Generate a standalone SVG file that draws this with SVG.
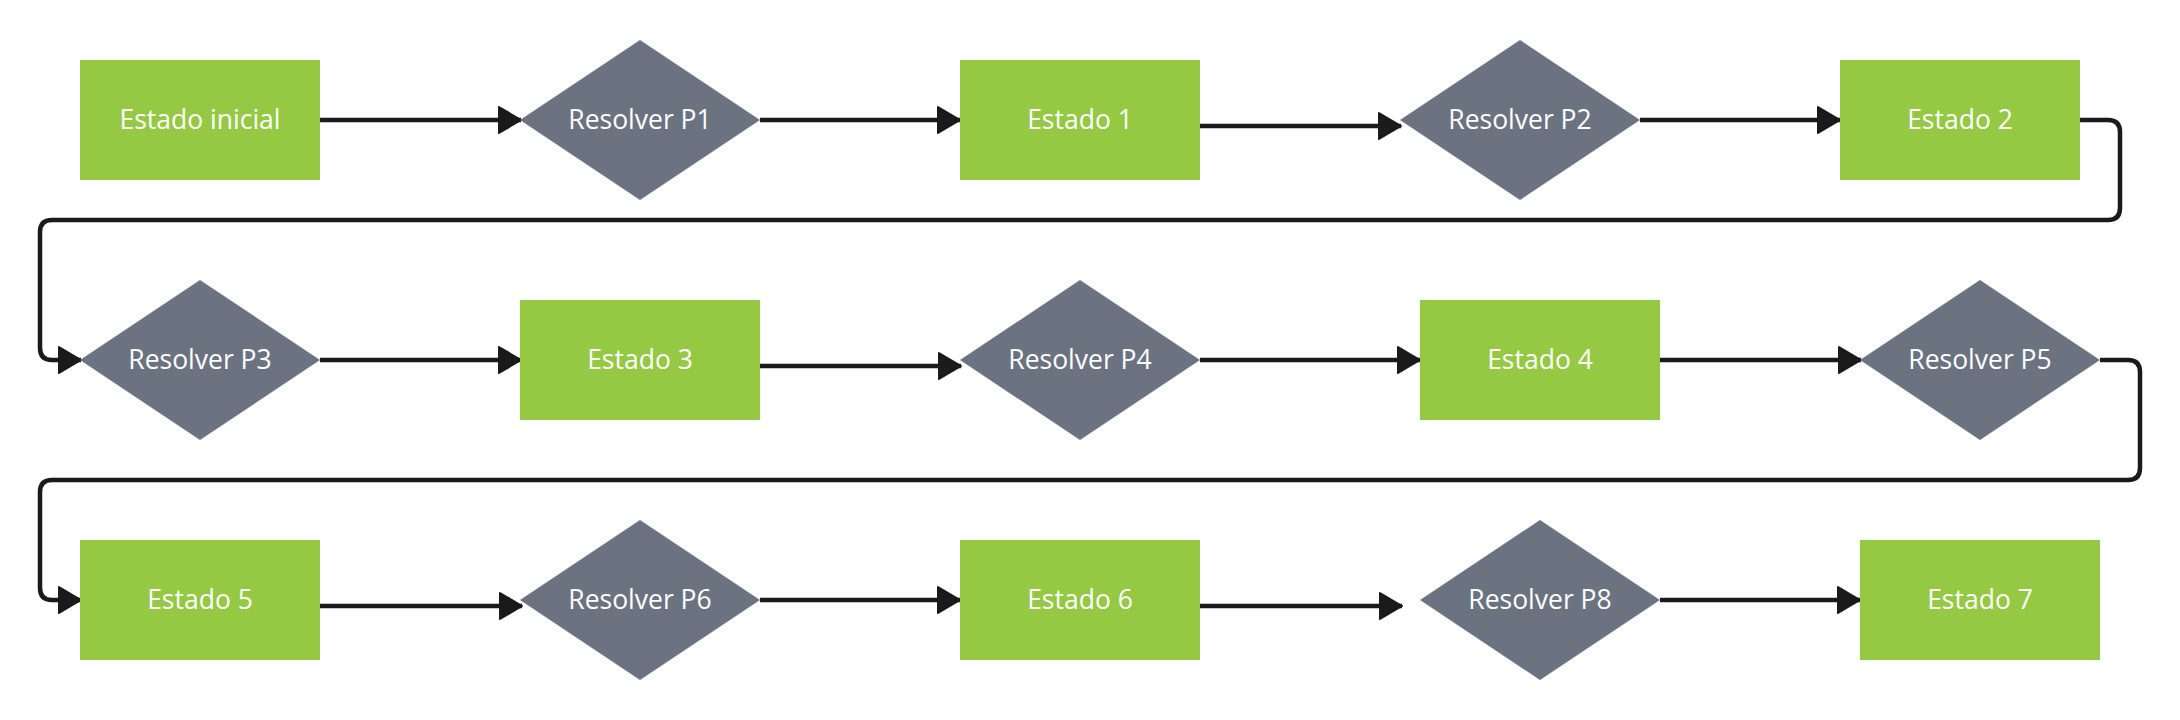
<svg xmlns="http://www.w3.org/2000/svg" width="2180" height="720" viewBox="0 0 2180 720">
<style>
.st{fill:#95c943}
.dc{fill:#6b7280}
.lb{font-family:"Open Sans","Noto Sans",sans-serif;font-size:26.5px;fill:#ffffff;text-anchor:middle}
.cn{fill:none;stroke:#1a1a1a;stroke-width:4.5;stroke-linejoin:round;marker-end:url(#ah)}
</style>
<defs>
<marker id="ah" markerUnits="userSpaceOnUse" markerWidth="26" markerHeight="30" refX="22" refY="13" orient="auto" viewBox="-2 -2 26 30">
<path d="M0,0 L22,13 L0,26 Z" fill="#1a1a1a" stroke="#1a1a1a" stroke-width="2" stroke-linejoin="round"/>
</marker>
</defs>
<rect width="2180" height="720" fill="#ffffff"/>
<g id="connectors">
<path class="cn" d="M320,120 H521"/>
<path class="cn" d="M760,120 H960"/>
<path class="cn" d="M1200,126 H1401"/>
<path class="cn" d="M1640,120 H1840"/>
<path class="cn" d="M2080,120 H2108 Q2120,120 2120,132 V208 Q2120,220 2108,220 H52 Q40,220 40,232 V348 Q40,360 52,360 H81"/>
<path class="cn" d="M320,360 H521"/>
<path class="cn" d="M760,366 H961"/>
<path class="cn" d="M1200,360 H1420"/>
<path class="cn" d="M1660,360 H1861"/>
<path class="cn" d="M2100,360 H2128 Q2140,360 2140,372 V468 Q2140,480 2128,480 H52 Q40,480 40,492 V588 Q40,600 52,600 H81"/>
<path class="cn" d="M320,606 H522"/>
<path class="cn" d="M760,600 H960"/>
<path class="cn" d="M1200,606 H1402"/>
<path class="cn" d="M1660,600 H1860"/>
</g>
<g id="estado-inicial"><rect class="st" x="80" y="60" width="240" height="120"/><text class="lb" x="200" y="129.3">Estado inicial</text></g>
<g id="p1"><polygon class="dc" points="640,40 760,120 640,200 520,120"/><text class="lb" x="640" y="129.3">Resolver P1</text></g>
<g id="estado-1"><rect class="st" x="960" y="60" width="240" height="120"/><text class="lb" x="1080" y="129.3">Estado 1</text></g>
<g id="p2"><polygon class="dc" points="1520,40 1640,120 1520,200 1400,120"/><text class="lb" x="1520" y="129.3">Resolver P2</text></g>
<g id="estado-2"><rect class="st" x="1840" y="60" width="240" height="120"/><text class="lb" x="1960" y="129.3">Estado 2</text></g>
<g id="p3"><polygon class="dc" points="200,280 320,360 200,440 80,360"/><text class="lb" x="200" y="369.3">Resolver P3</text></g>
<g id="estado-3"><rect class="st" x="520" y="300" width="240" height="120"/><text class="lb" x="640" y="369.3">Estado 3</text></g>
<g id="p4"><polygon class="dc" points="1080,280 1200,360 1080,440 960,360"/><text class="lb" x="1080" y="369.3">Resolver P4</text></g>
<g id="estado-4"><rect class="st" x="1420" y="300" width="240" height="120"/><text class="lb" x="1540" y="369.3">Estado 4</text></g>
<g id="p5"><polygon class="dc" points="1980,280 2100,360 1980,440 1860,360"/><text class="lb" x="1980" y="369.3">Resolver P5</text></g>
<g id="estado-5"><rect class="st" x="80" y="540" width="240" height="120"/><text class="lb" x="200" y="609.3">Estado 5</text></g>
<g id="p6"><polygon class="dc" points="640,520 760,600 640,680 520,600"/><text class="lb" x="640" y="609.3">Resolver P6</text></g>
<g id="estado-6"><rect class="st" x="960" y="540" width="240" height="120"/><text class="lb" x="1080" y="609.3">Estado 6</text></g>
<g id="p8"><polygon class="dc" points="1540,520 1660,600 1540,680 1420,600"/><text class="lb" x="1540" y="609.3">Resolver P8</text></g>
<g id="estado-7"><rect class="st" x="1860" y="540" width="240" height="120"/><text class="lb" x="1980" y="609.3">Estado 7</text></g>
</svg>
